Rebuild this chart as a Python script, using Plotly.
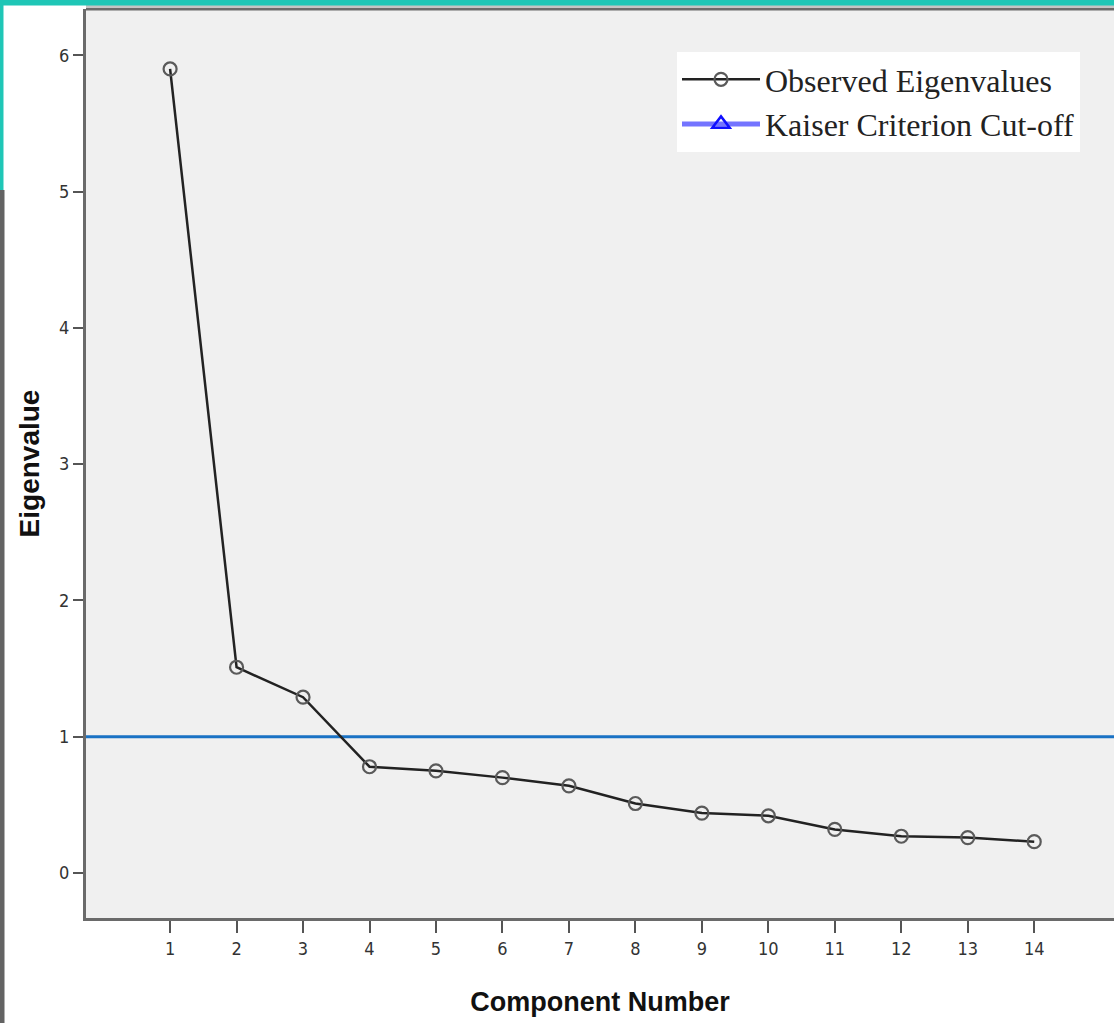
import plotly.graph_objects as go

components = list(range(1, 15))
eigenvalues = [5.90, 1.51, 1.29, 0.78, 0.75, 0.70, 0.64, 0.51, 0.44, 0.42, 0.32, 0.27, 0.26, 0.23]
kaiser_cutoff = 1.0
x_ticks = list(range(1, 15))
y_ticks = [0, 1, 2, 3, 4, 5, 6]

W, H = 1114, 1023
ML, MT, MB, MR = 86, 9, 105, 0
pw, ph = W - ML - MR, H - MT - MB

def px(x):
    return (x - ML) / pw

def py(y):
    return (H - MB - y) / ph

fig = go.Figure()

fig.add_hline(y=kaiser_cutoff, line=dict(color="#1a72c4", width=3), layer="below")

fig.add_trace(go.Scatter(
    x=components, y=eigenvalues, mode="lines+markers",
    name="Observed Eigenvalues",
    line=dict(color="#222222", width=2.5),
    marker=dict(symbol="circle-open", size=13, color="#5a5a5a", line=dict(width=2.2)),
))

fig.add_trace(go.Scatter(
    x=[None], y=[None], mode="lines+markers",
    name="Kaiser Criterion Cut-off",
    line=dict(color="rgba(70,70,255,0.75)", width=5),
    marker=dict(symbol="triangle-up-open", size=15, color="#1010ff", line=dict(width=2.5)),
))

axis_font = dict(family="DejaVu Sans Condensed, Liberation Sans Narrow, Liberation Sans, Arial", size=18, color="#333333")
xtitle_font = dict(family="Liberation Sans, Arial", size=27, color="#111111")
ytitle_font = dict(family="Liberation Sans, Arial", size=28, color="#111111")

fig.update_layout(
    width=W, height=H,
    margin=dict(l=ML, r=MR, t=MT, b=MB),
    paper_bgcolor="white",
    plot_bgcolor="#f0f0f0",
    showlegend=True,
    legend=dict(
        x=px(677), y=py(52), xanchor="left", yanchor="top",
        bgcolor="white", borderwidth=0,
        font=dict(family="Liberation Serif, Times New Roman, serif", size=32, color="#222222"),
        itemwidth=78, tracegroupgap=0,
    ),
    xaxis=dict(
        range=[-0.265, 15.2], tickvals=x_ticks, ticktext=[str(t) for t in x_ticks],
        showgrid=False, zeroline=False, showline=True, linecolor="#6a6a6a", linewidth=3,
        mirror=False, ticks="outside", ticklen=12, tickwidth=2, tickcolor="#555555",
        tickfont=axis_font,
        title=dict(text="<b>Component Number</b>", font=xtitle_font, standoff=35),
    ),
    yaxis=dict(
        range=[-0.33, 6.34], tickvals=y_ticks, ticktext=[str(t) for t in y_ticks],
        showgrid=False, zeroline=False, showline=True, linecolor="#6a6a6a", linewidth=3,
        mirror=False, ticks="outside", ticklen=10, tickwidth=2, tickcolor="#555555",
        tickfont=axis_font,
        title=dict(text="<b>Eigenvalue</b>", font=ytitle_font, standoff=12),
    ),
)

# top border of plot area
fig.add_shape(type="line", xref="paper", yref="paper", x0=0, x1=1, y0=1, y1=1,
              line=dict(color="#6a6a6a", width=3))
fig.add_shape(type="line", xref="paper", yref="paper", x0=0, x1=1, y0=py(6.5), y1=py(6.5),
              line=dict(color="#c4c4c4", width=3))

# decorative page edges
fig.add_shape(type="rect", xref="paper", yref="paper", x0=px(0), x1=px(W), y0=py(5.5), y1=py(0),
              line=dict(width=0), fillcolor="#1fc6b6", layer="above")
fig.add_shape(type="rect", xref="paper", yref="paper", x0=px(0), x1=px(3.5), y0=py(190), y1=py(0),
              line=dict(width=0), fillcolor="#1fc6b6", layer="above")
fig.add_shape(type="rect", xref="paper", yref="paper", x0=px(0), x1=px(4.5), y0=py(H), y1=py(190),
              line=dict(width=0), fillcolor="#636363", layer="above")

fig.write_html("out.html", config={"displayModeBar": False},
               post_script="document.body.style.margin='0';document.body.style.overflow='hidden';")
